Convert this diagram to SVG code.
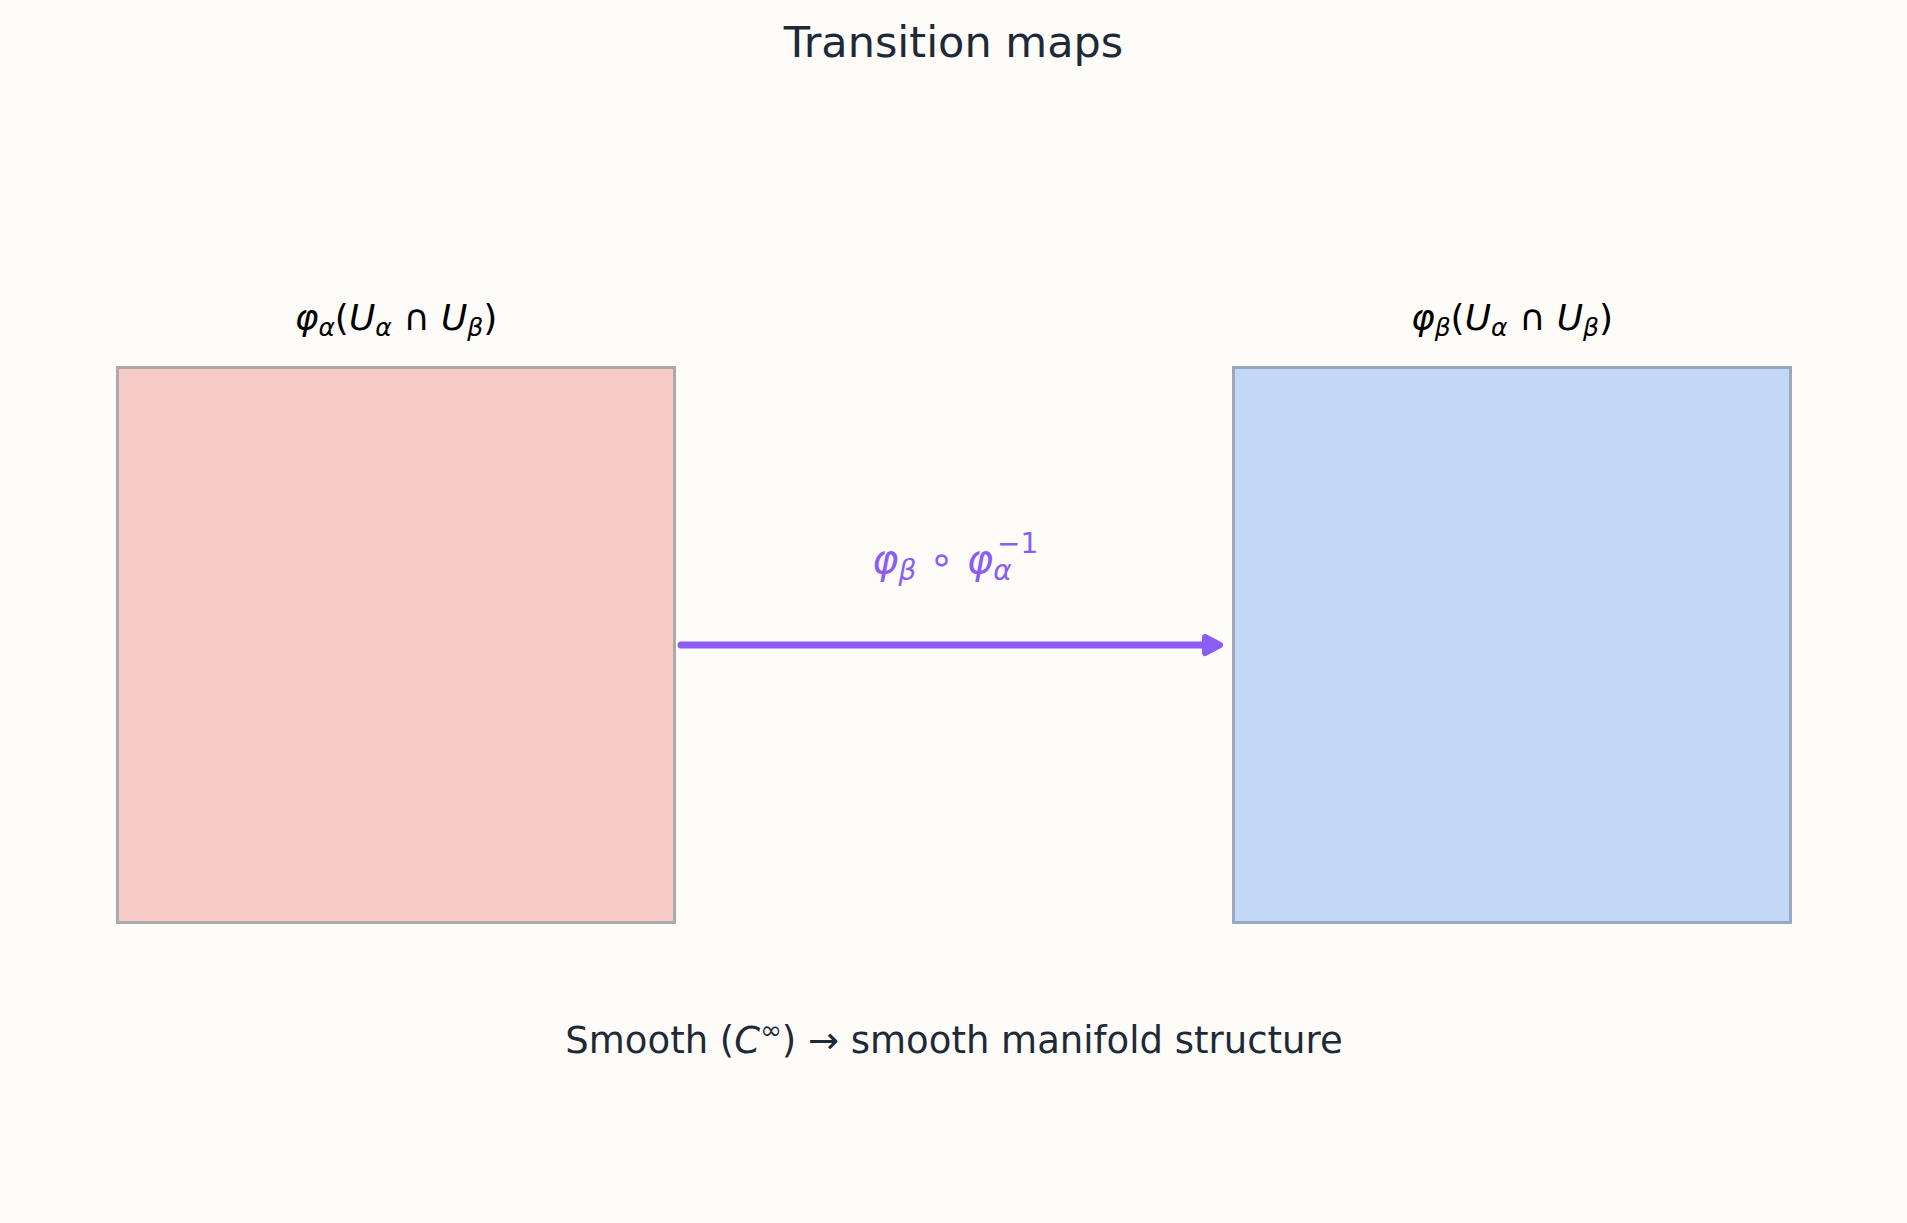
<svg xmlns="http://www.w3.org/2000/svg" width="1907" height="1223" viewBox="0 0 1907 1223">
  <style>
    .title { font-family: "DejaVu Sans", sans-serif; font-size: 43px; fill: #1f2937; }
    .lbl { font-family: "DejaVu Sans", sans-serif; font-size: 36px; fill: #000000; }
    .map { font-family: "DejaVu Sans", sans-serif; font-size: 40px; fill: #8b5cf6; }
    .note { font-family: "DejaVu Sans", sans-serif; font-size: 37px; fill: #1f2937; }
    .it { font-style: italic; }
    .conn { stroke: #8b5cf6; stroke-width: 7; stroke-linecap: round; fill: none; }
  </style>
  <defs>
    <marker id="head" markerUnits="userSpaceOnUse" markerWidth="30" markerHeight="30" viewBox="0 0 30 30" refX="4" refY="15" orient="auto">
      <path d="M5,7 L20,15 L5,23 Z" fill="#8b5cf6" stroke="#8b5cf6" stroke-width="6" stroke-linejoin="round"/>
    </marker>
  </defs>
  <rect x="0" y="0" width="1907" height="1223" fill="#fdfcf9"/>
  <text class="title" x="953.5" y="57" text-anchor="middle">Transition maps</text>

  <g id="chart-alpha">
    <rect x="117.5" y="367.5" width="557" height="555" fill="#f7cbc5" stroke="#aaaaaa" stroke-width="3"/>
    <text class="lbl" x="396" y="330" text-anchor="middle"><tspan class="it">φ</tspan><tspan class="it" font-size="25" dy="6">α</tspan><tspan dy="-6">(</tspan><tspan class="it">U</tspan><tspan class="it" font-size="25" dy="6">α</tspan><tspan dy="-6"> ∩ </tspan><tspan class="it">U</tspan><tspan class="it" font-size="25" dy="6">β</tspan><tspan dy="-6">)</tspan></text>
  </g>

  <g id="chart-beta">
    <rect x="1233.5" y="367.5" width="557" height="555" fill="#c3d7f6" stroke="#9ca8be" stroke-width="3"/>
    <text class="lbl" x="1512" y="330" text-anchor="middle"><tspan class="it">φ</tspan><tspan class="it" font-size="25" dy="6">β</tspan><tspan dy="-6">(</tspan><tspan class="it">U</tspan><tspan class="it" font-size="25" dy="6">α</tspan><tspan dy="-6"> ∩ </tspan><tspan class="it">U</tspan><tspan class="it" font-size="25" dy="6">β</tspan><tspan dy="-6">)</tspan></text>
  </g>

  <g id="connectors">
    <line class="conn" x1="681" y1="645" x2="1204" y2="645" marker-end="url(#head)"/>
    <text class="map" x="872" y="573"><tspan class="it">φ</tspan><tspan class="it" font-size="28" dy="7">β</tspan><tspan dy="-7"> ∘ </tspan><tspan class="it">φ</tspan><tspan class="it" font-size="28" dy="7">α</tspan><tspan font-size="28" x="997" dy="-27">−1</tspan></text>
  </g>

  <text class="note" x="954" y="1053" text-anchor="middle">Smooth (<tspan class="it">C</tspan><tspan font-size="26" dy="-14">∞</tspan><tspan dy="14">) → smooth manifold structure</tspan></text>
</svg>
